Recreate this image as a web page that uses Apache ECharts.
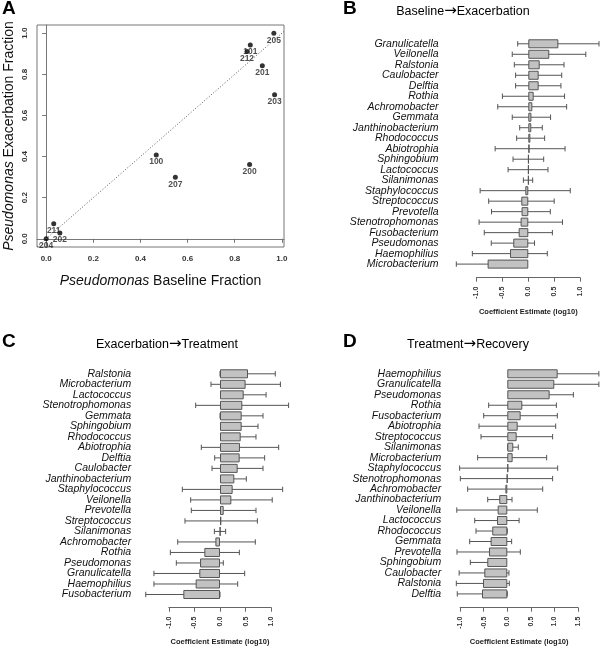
<!DOCTYPE html>
<html><head><meta charset="utf-8">
<script src="https://cdn.jsdelivr.net/npm/echarts@6/dist/echarts.min.js"></script>
<style>html,body{margin:0;padding:0;background:#fff}#c{width:600px;height:647px}</style>
</head><body><div id="c"></div>
<script>
// ---- Panel A data ----
const subjects     = ['205','101','212','201','203','100','207','200','211','202','204'];
const baseline     = [0.966,0.866,0.852,0.917,0.969,0.467,0.548,0.863,0.032,0.058,0.000];
const exacerbation = [1.000,0.943,0.911,0.842,0.701,0.408,0.299,0.361,0.073,0.028,0.000];
const fracTicks    = [0,0.2,0.4,0.6,0.8,1.0];
const diagonal     = [-0.039, 1.009];

// ---- Panel B: Baseline -> Exacerbation ----
const catsB = ['Granulicatella','Veilonella','Ralstonia','Caulobacter','Delftia','Rothia','Achromobacter','Gemmata','Janthinobacterium','Rhodococcus','Abiotrophia','Sphingobium','Lactococcus','Silanimonas','Staphylococcus','Streptococcus','Prevotella','Stenotrophomonas','Fusobacterium','Pseudomonas','Haemophilius','Microbacterium'];
const estB  = [0.58,0.405,0.22,0.20,0.20,0.104,0.078,0.06,0.058,0.04,0.025,0.005,0.004,0.003,-0.058,-0.135,-0.13,-0.148,-0.186,-0.29,-0.353,-0.785];
const lowB  = [-0.205,-0.31,-0.27,-0.245,-0.245,-0.50,-0.59,-0.31,-0.166,-0.225,-0.64,-0.295,-0.39,-0.095,-0.93,-0.765,-0.71,-0.95,-0.85,-0.715,-1.08,-1.39];
const highB = [1.365,1.11,0.69,0.645,0.63,0.70,0.74,0.43,0.27,0.315,0.71,0.297,0.38,0.085,0.81,0.50,0.425,0.66,0.465,0.12,0.367,-0.174];
const ticksB = [-1.0,-0.5,0.0,0.5,1.0];

// ---- Panel C: Exacerbation -> Treatment ----
const catsC = ['Ralstonia','Microbacterium','Lactococcus','Stenotrophomonas','Gemmata','Sphingobium','Rhodococcus','Abiotrophia','Delftia','Caulobacter','Janthinobacterium','Staphylococcus','Veilonella','Prevotella','Streptococcus','Silanimonas','Achromobacter','Rothia','Pseudomonas','Granulicatella','Haemophilius','Fusobacterium'];
const estC  = [0.547,0.50,0.463,0.436,0.423,0.423,0.404,0.39,0.384,0.345,0.28,0.247,0.221,0.072,0.026,0.004,-0.09,-0.306,-0.39,-0.404,-0.475,-0.716];
const lowC  = [0.0,-0.176,0.026,-0.475,0.0,0.085,0.085,-0.365,-0.104,-0.156,0.026,-0.736,-0.573,-0.56,-0.684,-0.11,-0.826,-0.97,-0.853,-1.29,-1.29,-1.45];
const highC = [1.08,1.18,0.90,1.34,0.84,0.742,0.703,1.146,0.872,0.84,0.514,1.224,1.02,0.703,0.73,0.11,0.69,0.378,0.065,0.482,0.345,0.0];
const ticksC = [-1.0,-0.5,0.0,0.5,1.0];

// ---- Panel D: Treatment -> Recovery ----
const catsD = ['Haemophilius','Granulicatella','Pseudomonas','Rothia','Fusobacterium','Abiotrophia','Streptococcus','Silanimonas','Microbacterium','Staphylococcus','Stenotrophomonas','Achromobacter','Janthinobacterium','Veilonella','Lactococcus','Rhodococcus','Gemmata','Prevotella','Sphingobium','Caulobacter','Ralstonia','Delftia'];
const estD  = [1.067,0.996,0.897,0.318,0.283,0.22,0.198,0.127,0.113,0.02,-0.005,-0.04,-0.17,-0.204,-0.218,-0.318,-0.353,-0.388,-0.424,-0.487,-0.515,-0.536];
const lowD  = [0.205,0.042,0.41,-0.395,-0.50,-0.60,-0.557,0.007,-0.628,-1.01,-0.995,-0.84,-0.415,-1.07,-0.69,-0.663,-0.797,-1.066,-0.783,-1.02,-1.08,-1.06];
const highD = [1.94,1.94,1.40,1.04,1.06,1.025,0.96,0.233,0.834,1.067,0.96,0.75,0.10,0.636,0.25,0.0,0.092,0.276,-0.077,0.035,0.042,0.0];
const ticksD = [-1.0,-0.5,0.0,0.5,1.0,1.5];

// ---- layout ----
const FONT = 'Liberation Sans, Arial, Helvetica, sans-serif';
const panels = [
  {cats:catsB, est:estB, low:lowB, high:highB, ticks:ticksB, left:450.6, width:155.4, top:38.55, height:230.8, min:-1.5, max:1.5, axisY:277.7, labelMargin:12},
  {cats:catsC, est:estC, low:lowC, high:highC, ticks:ticksC, left:143.2, width:153.6, top:368.55, height:231.2, min:-1.5, max:1.5, axisY:607.7, labelMargin:12},
  {cats:catsD, est:estD, low:lowD, high:highD, ticks:ticksD, left:450.66, width:148.68, top:368.55, height:230.6, min:-1.2, max:1.95, axisY:607.7, labelMargin:9.5}
];

const grids = [{left:37, top:25, width:247, height:222, show:true, borderColor:'#777', borderWidth:1, backgroundColor:'transparent', outerBoundsMode:'none', containLabel:false}];
const xAxes = [{
  gridIndex:0, type:'value', min:-0.039, max:1.009,
  axisLine:{show:true, lineStyle:{color:'#777'}},
  axisTick:{show:true, customValues:fracTicks, length:4, lineStyle:{color:'#777'}},
  axisLabel:{customValues:fracTicks, formatter:v=>v.toFixed(1), fontSize:8, fontWeight:'bold', color:'#333', fontFamily:FONT, margin:8},
  splitLine:{show:false},
  name:'{i|Pseudomonas} Baseline Fraction', nameLocation:'middle', nameGap:27,
  nameTextStyle:{fontSize:14, color:'#111', fontFamily:FONT, rich:{i:{fontSize:14, fontStyle:'italic', fontFamily:FONT, color:'#111'}}}
}];
const yAxes = [{
  gridIndex:0, type:'value', min:-0.04, max:1.04,
  axisLine:{show:true, lineStyle:{color:'#777'}},
  axisTick:{show:true, customValues:fracTicks, length:4, lineStyle:{color:'#777'}},
  axisLabel:{customValues:fracTicks, formatter:v=>v.toFixed(1), rotate:90, fontSize:8, fontWeight:'bold', color:'#333', fontFamily:FONT, margin:8},
  splitLine:{show:false},
  name:'{i|Pseudomonas} Exacerbation Fraction', nameLocation:'middle', nameGap:21,
  nameTextStyle:{fontSize:14, color:'#111', fontFamily:FONT, rich:{i:{fontSize:14, fontStyle:'italic', fontFamily:FONT, color:'#111'}}}
}];
const series = [
  {type:'line', xAxisIndex:0, yAxisIndex:0, data:[[diagonal[0],diagonal[0]],[diagonal[1],diagonal[1]]], symbol:'none', silent:true,
   lineStyle:{color:'#555', width:1, type:[1,2]}},
  {type:'scatter', xAxisIndex:0, yAxisIndex:0, symbolSize:5, itemStyle:{color:'#000'},
   data: baseline.map((x,i)=>({value:[x, exacerbation[i]], name:subjects[i]})),
   label:{show:true, position:'bottom', distance:0, formatter:'{b}', fontSize:8.5, fontWeight:'bold', color:'#222', fontFamily:FONT}}
];

panels.forEach((p, k) => {
  const gi = grids.length;
  grids.push({left:p.left, top:p.top, width:p.width, height:p.height, outerBoundsMode:'none', containLabel:false});
  xAxes.push({gridIndex:gi, type:'value', min:p.min, max:p.max, show:false});
  yAxes.push({gridIndex:gi, type:'category', data:p.cats, inverse:true,
    axisLine:{show:false}, axisTick:{show:false},
    axisLabel:{fontSize:10.5, fontStyle:'italic', color:'#111', fontFamily:FONT, margin:p.labelMargin, interval:0}});
  const ai = xAxes.length - 1;
  series.push({type:'bar', xAxisIndex:ai, yAxisIndex:ai, data:p.est, barCategoryGap:'14%',
    itemStyle:{color:'#c2c2c2', borderColor:'#555', borderWidth:1, borderRadius:0}, silent:true});
  series.push({type:'custom', xAxisIndex:ai, yAxisIndex:ai, clip:false, silent:true,
    data: p.cats.map((c,i)=>[i, p.low[i], p.high[i]]),
    encode:{y:0, x:[1,2]},
    renderItem:(params, api) => {
      const idx = api.value(0);
      const a = api.coord([api.value(1), idx]);
      const b = api.coord([api.value(2), idx]);
      const h = 2.7, st = {stroke:'#555', lineWidth:1};
      return {type:'group', children:[
        {type:'line', shape:{x1:a[0], y1:a[1], x2:b[0], y2:b[1]}, style:st},
        {type:'line', shape:{x1:a[0], y1:a[1]-h, x2:a[0], y2:a[1]+h}, style:st},
        {type:'line', shape:{x1:b[0], y1:b[1]-h, x2:b[0], y2:b[1]+h}, style:st}
      ]};
    }});
});

// separate axis strips (R-style axis spanning only first..last tick)
panels.forEach((p) => {
  const s = p.width / (p.max - p.min);
  const a = p.ticks[0], b = p.ticks[p.ticks.length-1];
  const gi = grids.length;
  grids.push({left:p.left + (a - p.min)*s, width:(b - a)*s, top:p.axisY - 1, height:1, outerBoundsMode:'none', containLabel:false});
  xAxes.push({gridIndex:gi, type:'value', min:a, max:b, interval:0.5, position:'bottom',
    axisLine:{show:true, lineStyle:{color:'#666'}},
    axisTick:{show:true, length:4, lineStyle:{color:'#666'}},
    axisLabel:{rotate:90, formatter:v=>v.toFixed(1), fontSize:7, fontWeight:'bold', color:'#333', fontFamily:FONT, margin:9, showMinLabel:true, showMaxLabel:true},
    splitLine:{show:false},
    name:'Coefficient Estimate (log10)', nameLocation:'middle', nameGap:30,
    nameTextStyle:{fontSize:7.5, fontWeight:'bold', color:'#222', fontFamily:FONT}});
  yAxes.push({gridIndex:gi, type:'value', show:false});
});

const txt = (x, y, text, size, weight, align) => ({type:'text', x:x, y:y, silent:true,
  style:{text:text, fontSize:size, fontWeight:weight, fontFamily:FONT, fill:'#000', align:align, verticalAlign:'top',
    rich:{a:{fontFamily:'DejaVu Sans', fontSize:15, fill:'#000'}}}});

const option = {
  animation:false,
  backgroundColor:'#fff',
  grid:grids, xAxis:xAxes, yAxis:yAxes, series:series,
  graphic:[
    txt(2, -1, 'A', 19, 'bold', 'left'),
    txt(343, -1, 'B', 19, 'bold', 'left'),
    txt(2, 332, 'C', 19, 'bold', 'left'),
    txt(343, 332, 'D', 19, 'bold', 'left'),
    txt(463, 4, 'Baseline{a|→}Exacerbation', 12.5, 'normal', 'center'),
    txt(167, 337, 'Exacerbation{a|→}Treatment', 12.5, 'normal', 'center'),
    txt(468, 337, 'Treatment{a|→}Recovery', 12.5, 'normal', 'center')
  ]
};
const chart = echarts.init(document.getElementById('c'), null, {renderer:'canvas'});
chart.setOption(option);
</script></body></html>
